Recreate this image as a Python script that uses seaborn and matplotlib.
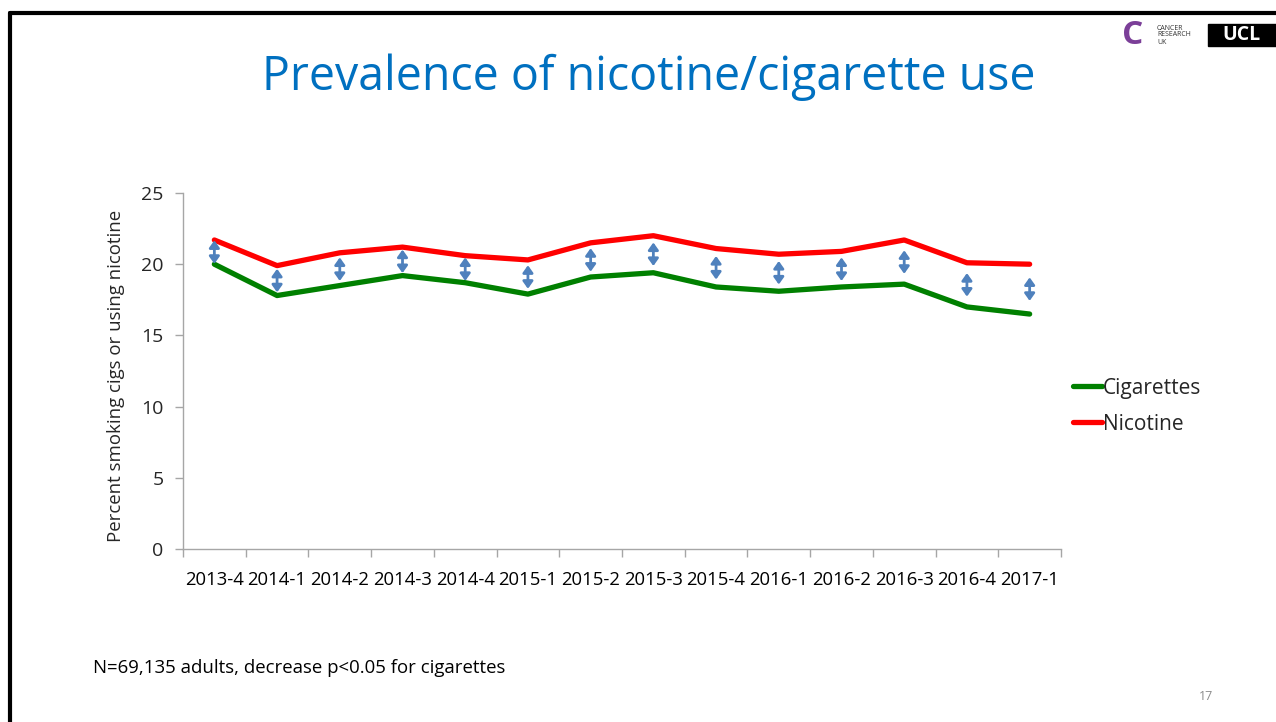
import numpy as np
import pandas as pd
import matplotlib
matplotlib.use("Agg")
import matplotlib.pyplot as plt
from matplotlib.lines import Line2D
from matplotlib.patches import Rectangle, FancyArrowPatch
import seaborn as sns

quarters = ["2013-4", "2014-1", "2014-2", "2014-3", "2014-4", "2015-1", "2015-2",
            "2015-3", "2015-4", "2016-1", "2016-2", "2016-3", "2016-4", "2017-1"]
cigarettes = [20.0, 17.8, 18.5, 19.2, 18.7, 17.9, 19.1, 19.4, 18.4, 18.1, 18.4, 18.6, 17.0, 16.5]
nicotine = [21.7, 19.9, 20.8, 21.2, 20.6, 20.3, 21.5, 22.0, 21.1, 20.7, 20.9, 21.7, 20.1, 20.0]
series_names = ["Cigarettes", "Nicotine"]
series_colors = ["#008000", "#FF0000"]

df = pd.DataFrame({
    "quarter": quarters * 2,
    "value": cigarettes + nicotine,
    "series": [series_names[0]] * len(quarters) + [series_names[1]] * len(quarters),
})

sns.set_theme(style="white")
plt.rcParams["font.family"] = ["Open Sans", "DejaVu Sans"]

fig = plt.figure(figsize=(12.76, 7.22), dpi=100)
ax = fig.add_axes([183 / 1276, 1 - 549 / 722, (1061 - 183) / 1276, (549 - 193) / 722])

sns.lineplot(data=df, x="quarter", y="value", hue="series", hue_order=series_names,
             palette=series_colors, linewidth=3.8, ax=ax, legend=False, sort=False)

# double-headed arrows marking the gap between the two series
arrow_len = 1.65
for i, (c, n) in enumerate(zip(cigarettes, nicotine)):
    mid = (c + n) / 2
    ax.add_patch(FancyArrowPatch((i, mid - arrow_len / 2), (i, mid + arrow_len / 2),
                                 arrowstyle="<|-|>,head_length=0.42,head_width=0.3",
                                 mutation_scale=10, color="#4F81BD", lw=2.0,
                                 shrinkA=0, shrinkB=0, zorder=3))

ax.set_xlim(-0.5, len(quarters) - 0.5)
ax.set_ylim(0, 25)
ax.set_yticks([0, 5, 10, 15, 20, 25])
ax.set_xticks(range(len(quarters)))
ax.set_xticklabels(quarters)
ax.set_xticks(np.arange(-0.5, len(quarters), 1.0), minor=True)
ax.tick_params(axis="x", which="major", length=0, pad=16, labelsize=13.3, colors="black")
ax.tick_params(axis="x", which="minor", length=6, width=1, color="#A6A6A6", direction="out", bottom=True)
ax.tick_params(axis="y", length=6, width=1, color="#A6A6A6", direction="out", left=True,
               labelsize=14, pad=8)

for side in ["top", "right"]:
    ax.spines[side].set_visible(False)
for side in ["left", "bottom"]:
    ax.spines[side].set_color("#A6A6A6")
    ax.spines[side].set_linewidth(1)

ax.set_xlabel("")
ax.set_ylabel("Percent smoking cigs or using nicotine", fontsize=13.4)
ax.yaxis.set_label_coords(-0.066, 0.485)

handles = [Line2D([0], [0], color=c, lw=3.8, solid_capstyle="round") for c in series_colors]
fig.legend(handles, series_names, loc="upper left", bbox_to_anchor=(1054 / 1276, 1 - 359 / 722),
           frameon=False, fontsize=15, handlelength=1.4, handletextpad=0.05, labelspacing=0.72)

fig.text(649 / 1276, 1 - 77 / 722, "Prevalence of nicotine/cigarette use", ha="center", va="center",
         fontsize=33.5, color="#0070C0")
fig.text(93 / 1276, 1 - 668 / 722, "N=69,135 adults, decrease p<0.05 for cigarettes", ha="left",
         va="center", fontsize=13.4, color="black")
fig.text(1206 / 1276, 1 - 697 / 722, "17", ha="center", va="center", fontsize=9, color="#8C8C8C")

# slide frame
fig.add_artist(Line2D([10 / 1276, 1], [1 - 13 / 722] * 2, color="black", lw=3, transform=fig.transFigure))
fig.add_artist(Line2D([10 / 1276] * 2, [0, 1 - 13 / 722], color="black", lw=3, transform=fig.transFigure))

# logos
fig.text(1133 / 1276, 1 - 36 / 722, "C", ha="center", va="center", fontsize=24, fontweight="bold",
         color="#7B3F98")
fig.text(1157 / 1276, 1 - 35 / 722, "CANCER\nRESEARCH\nUK", ha="left", va="center", fontsize=5,
         linespacing=1.0, color="#333333")
fig.add_artist(Rectangle((1208 / 1276, 1 - 46 / 722), 70 / 1276, 22 / 722, color="black",
                         transform=fig.transFigure))
fig.text(1222 / 1276, 1 - 35 / 722, "UCL", ha="left", va="center", fontsize=14, fontweight="bold",
         color="white")

fig.savefig("out.png", dpi=100)
